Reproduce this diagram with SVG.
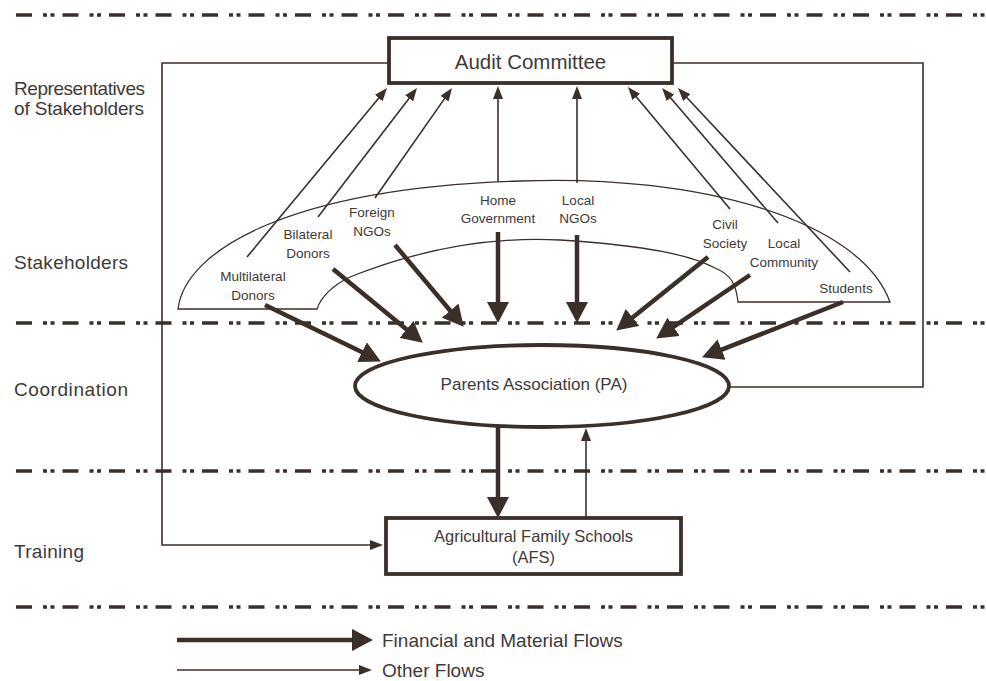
<svg xmlns="http://www.w3.org/2000/svg" width="986" height="681" viewBox="0 0 986 681">
<style>
text{font-family:"Liberation Sans",Arial,sans-serif;fill:#3e3a38}
.lbl{font-size:19px}
.sh{font-size:13.5px;text-anchor:middle}
.sep{stroke:#3a2f2a;stroke-width:3.5;stroke-dasharray:16 11 4 3.5 4 8;fill:none}
.thick{stroke:#3b2f2a;stroke-width:4.5;fill:none;marker-end:url(#bigArrow)}
.thin{stroke:#3b2f2a;stroke-width:1.6;fill:none;marker-end:url(#smallArrow)}
.plain{stroke:#3b2f2a;stroke-width:1.6;fill:none}
.box{fill:#fff;stroke:#3b2f2a;stroke-width:3.8}
</style>
<defs>
<marker id="bigArrow" markerUnits="userSpaceOnUse" markerWidth="22" markerHeight="22" refX="10" refY="11" orient="auto">
<path d="M0,0 L21,11 L0,22 z" fill="#3b2f2a"/>
</marker>
<marker id="smallArrow" markerUnits="userSpaceOnUse" markerWidth="14" markerHeight="10" refX="8" refY="5" orient="auto">
<path d="M0,0 L13,5 L0,10 z" fill="#3b2f2a"/>
</marker>
</defs>
<rect width="986" height="681" fill="#fff"/>

<g id="separators">
<line class="sep" x1="16" y1="15" x2="986" y2="15"/>
<line class="sep" x1="16" y1="323" x2="986" y2="323"/>
<line class="sep" x1="16" y1="471" x2="986" y2="471"/>
<line class="sep" x1="16" y1="607" x2="986" y2="607"/>
</g>

<g id="row-labels">
<text class="lbl" x="14" y="95" textLength="131">Representatives</text>
<text class="lbl" x="14" y="115" textLength="130">of Stakeholders</text>
<text class="lbl" x="14" y="269" textLength="114">Stakeholders</text>
<text class="lbl" x="14" y="396" textLength="114">Coordination</text>
<text class="lbl" x="14" y="558" textLength="70">Training</text>
</g>

<g id="stakeholders">
<path d="M178,309 C185,250 290,188 520,181 C700,174 860,220 890,302 L738,302 C736,285 732,275 715,268 C690,255 650,246 560,240 C500,237 430,245 350,277 C330,287 321,297 317,309 Z" fill="#fff" stroke="#3b2f2a" stroke-width="1.3"/>
<text class="sh" x="253" y="281">Multilateral</text>
<text class="sh" x="253" y="300">Donors</text>
<text class="sh" x="308" y="239">Bilateral</text>
<text class="sh" x="308" y="258">Donors</text>
<text class="sh" x="372" y="217">Foreign</text>
<text class="sh" x="372" y="236">NGOs</text>
<text class="sh" x="498" y="205">Home</text>
<text class="sh" x="498" y="223">Government</text>
<text class="sh" x="578" y="205">Local</text>
<text class="sh" x="578" y="223">NGOs</text>
<text class="sh" x="725" y="229">Civil</text>
<text class="sh" x="725" y="248">Society</text>
<text class="sh" x="784" y="248">Local</text>
<text class="sh" x="784" y="267">Community</text>
<text class="sh" x="846" y="293">Students</text>
</g>

<g id="connectors">
<line class="thin" x1="247" y1="257" x2="383.8" y2="91.9"/>
<line class="thin" x1="318" y1="217" x2="414" y2="92"/>
<line class="thin" x1="375" y1="198" x2="449.1" y2="92.1"/>
<line class="thin" x1="498" y1="182" x2="498" y2="91"/>
<line class="thin" x1="577" y1="183" x2="577" y2="91"/>
<line class="thin" x1="730" y1="209" x2="631.2" y2="90.8"/>
<line class="thin" x1="778" y1="223" x2="665.3" y2="91.8"/>
<line class="thin" x1="850" y1="272" x2="681.4" y2="91.7"/>
<line class="thick" x1="265" y1="305" x2="371" y2="356.6"/>
<line class="thick" x1="333" y1="269" x2="414.3" y2="335.7"/>
<line class="thick" x1="395" y1="245" x2="456.6" y2="318.3"/>
<line class="thick" x1="498" y1="232" x2="498" y2="312"/>
<line class="thick" x1="577" y1="235" x2="577" y2="312"/>
<line class="thick" x1="708" y1="257" x2="624.8" y2="323.7"/>
<line class="thick" x1="750" y1="275" x2="665.3" y2="332.4"/>
<line class="thick" x1="843" y1="302" x2="712.3" y2="353.3"/>
<line class="thick" x1="498" y1="427" x2="498" y2="507"/>
<line class="thin" x1="586" y1="517" x2="586" y2="433"/>
<path class="thin" d="M389,63 H162 V545 H378"/>
<path class="plain" d="M729,387 H923 V63 H672"/>
</g>

<g id="audit-committee">
<rect class="box" x="389" y="38" width="283" height="45"/>
<text x="530.5" y="69" font-size="20.5" text-anchor="middle">Audit Committee</text>
</g>

<g id="parents-association">
<ellipse cx="542" cy="386" rx="187" ry="41" fill="#fff" stroke="#3b2f2a" stroke-width="3.8"/>
<text x="534" y="390" font-size="17" text-anchor="middle">Parents Association (PA)</text>
</g>

<g id="afs">
<rect class="box" x="386" y="518" width="295" height="56"/>
<text x="533.5" y="542" font-size="16.5" text-anchor="middle">Agricultural Family Schools</text>
<text x="533.5" y="563" font-size="16.5" text-anchor="middle">(AFS)</text>
</g>

<g id="legend">
<line class="thick" x1="177" y1="640" x2="362" y2="640"/>
<text x="382" y="647" font-size="19">Financial and Material Flows</text>
<line class="thin" x1="177" y1="670" x2="367" y2="670"/>
<text x="382" y="677" font-size="19">Other Flows</text>
</g>
</svg>
